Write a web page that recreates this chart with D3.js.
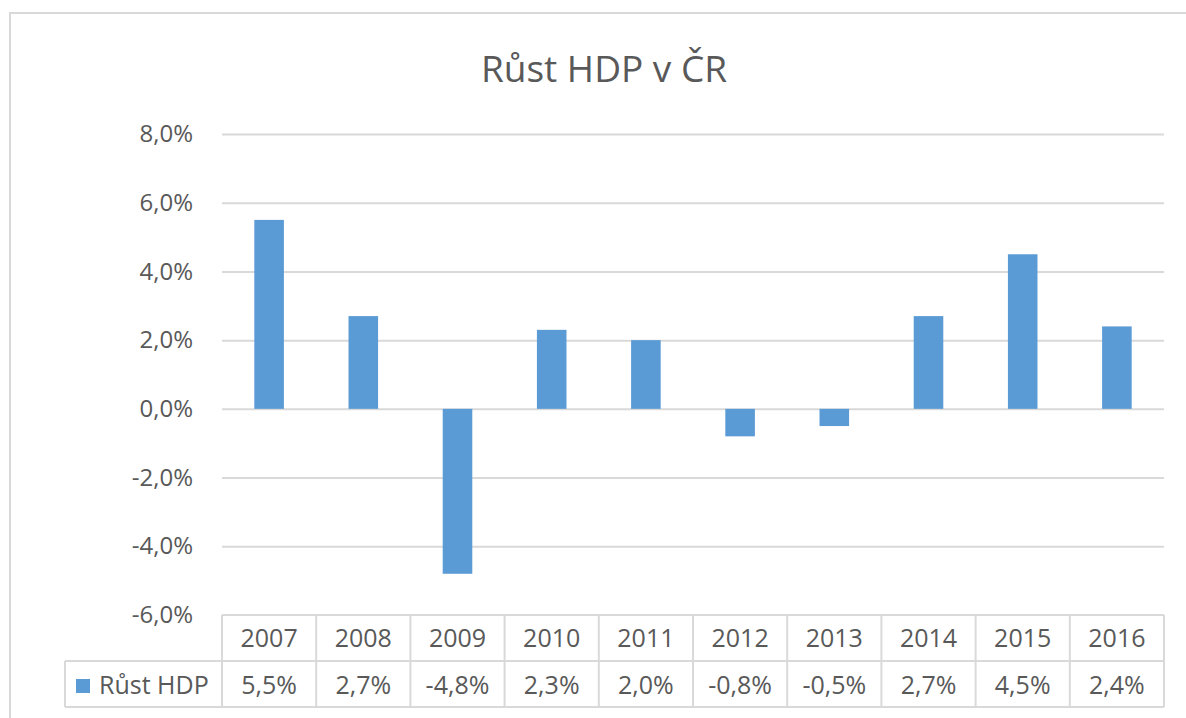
<!DOCTYPE html>
<html>
<head>
<meta charset="utf-8">
<script src="https://cdn.jsdelivr.net/npm/d3@7"></script>
<style>
  body { margin: 0; background: #fff; }
  text { font-family: "Open Sans", sans-serif; fill: #595959; }
</style>
</head>
<body>
<div id="chart"></div>
<script>
// chart data
const years = ["2007", "2008", "2009", "2010", "2011", "2012", "2013", "2014", "2015", "2016"];
const growth = [5.5, 2.7, -4.8, 2.3, 2.0, -0.8, -0.5, 2.7, 4.5, 2.4];
const yTicks = [-6, -4, -2, 0, 2, 4, 6, 8];
const seriesName = "Růst HDP";

const svgWidth = 1186;
const svgHeight = 718;

const plot = { left: 222, right: 1164, top: 134, bottom: 615 };
const tableRow = 46;

// czech style percent: comma decimal, plain hyphen minus
const pct = d => d3.format(".1f")(d).replace(".", ",").replace("\u2212", "-") + "%";

const svg = d3.select("#chart")
  .append("svg")
  .attr("width", svgWidth)
  .attr("height", svgHeight);

// outer chart border
svg.append("rect")
  .attr("x", 10)
  .attr("y", 13)
  .attr("width", svgWidth + 20)
  .attr("height", svgHeight + 20)
  .attr("fill", "none")
  .attr("stroke", "#d9d9d9")
  .attr("stroke-width", 2);

// title
svg.append("text")
  .attr("x", 604)
  .attr("y", 82)
  .attr("text-anchor", "middle")
  .style("font-size", "37px")
  .text("Růst HDP v ČR");

// scales
const x = d3.scaleBand()
  .domain(years)
  .range([plot.left, plot.right])
  .paddingInner(0.686)
  .paddingOuter(0.343);

const cols = d3.scaleBand()
  .domain(years)
  .range([plot.left, plot.right]);

const y = d3.scaleLinear()
  .domain([-6, 8])
  .range([plot.bottom, plot.top]);

// gridlines + tick labels via axis
const yAxis = d3.axisLeft(y)
  .tickValues(yTicks)
  .tickSize(-(plot.right - plot.left))
  .tickPadding(29)
  .tickFormat(pct);

const yg = svg.append("g")
  .attr("transform", `translate(${plot.left}, 0)`)
  .call(yAxis);

yg.select(".domain").remove();
yg.selectAll(".tick line")
  .attr("stroke", "#d9d9d9")
  .attr("stroke-width", 2);
yg.selectAll(".tick text")
  .attr("fill", "#595959")
  .style("font-family", "'Open Sans', sans-serif")
  .style("font-size", "24px");
yg.selectAll(".tick")
  .filter(d => d === -6)
  .select("line").remove();

// bars
svg.append("g")
  .selectAll("rect")
  .data(growth)
  .enter()
  .append("rect")
  .attr("x", (d, i) => x(years[i]))
  .attr("y", d => y(Math.max(0, d)))
  .attr("width", x.bandwidth())
  .attr("height", d => Math.abs(y(d) - y(0)))
  .attr("fill", "#5b9bd5");

// data table
const table = svg.append("g");
const lineColor = "#d9d9d9";
const tTop = plot.bottom;
const tMid = tTop + tableRow;
const tBot = tMid + tableRow;
const legendLeft = 65;

table.append("line")
  .attr("x1", plot.left).attr("x2", plot.right)
  .attr("y1", tTop).attr("y2", tTop);
table.append("line")
  .attr("x1", legendLeft).attr("x2", plot.right)
  .attr("y1", tMid).attr("y2", tMid);
table.append("line")
  .attr("x1", legendLeft).attr("x2", plot.right)
  .attr("y1", tBot).attr("y2", tBot);
table.append("line")
  .attr("x1", legendLeft).attr("x2", legendLeft)
  .attr("y1", tMid).attr("y2", tBot);

table.selectAll("line.col")
  .data(years.concat(["end"]))
  .enter()
  .append("line")
  .attr("class", "col")
  .attr("x1", (d, i) => i < years.length ? cols(d) : plot.right)
  .attr("x2", (d, i) => i < years.length ? cols(d) : plot.right)
  .attr("y1", tTop)
  .attr("y2", tBot);

table.selectAll("line")
  .attr("stroke", lineColor)
  .attr("stroke-width", 2);

table.selectAll("text.year")
  .data(years)
  .enter()
  .append("text")
  .attr("class", "year")
  .attr("x", d => cols(d) + cols.bandwidth() / 2)
  .attr("y", tTop + 32)
  .attr("text-anchor", "middle")
  .style("font-size", "25px")
  .text(d => d);

table.selectAll("text.val")
  .data(growth)
  .enter()
  .append("text")
  .attr("class", "val")
  .attr("x", (d, i) => cols(years[i]) + cols.bandwidth() / 2)
  .attr("y", tMid + 33)
  .attr("text-anchor", "middle")
  .style("font-size", "25px")
  .text(pct);

// legend key
table.append("rect")
  .attr("x", 76)
  .attr("y", tMid + 18)
  .attr("width", 14)
  .attr("height", 14)
  .attr("fill", "#5b9bd5");

table.append("text")
  .attr("x", 99)
  .attr("y", tMid + 33)
  .style("font-size", "25px")
  .text(seriesName);
</script>
</body>
</html>
